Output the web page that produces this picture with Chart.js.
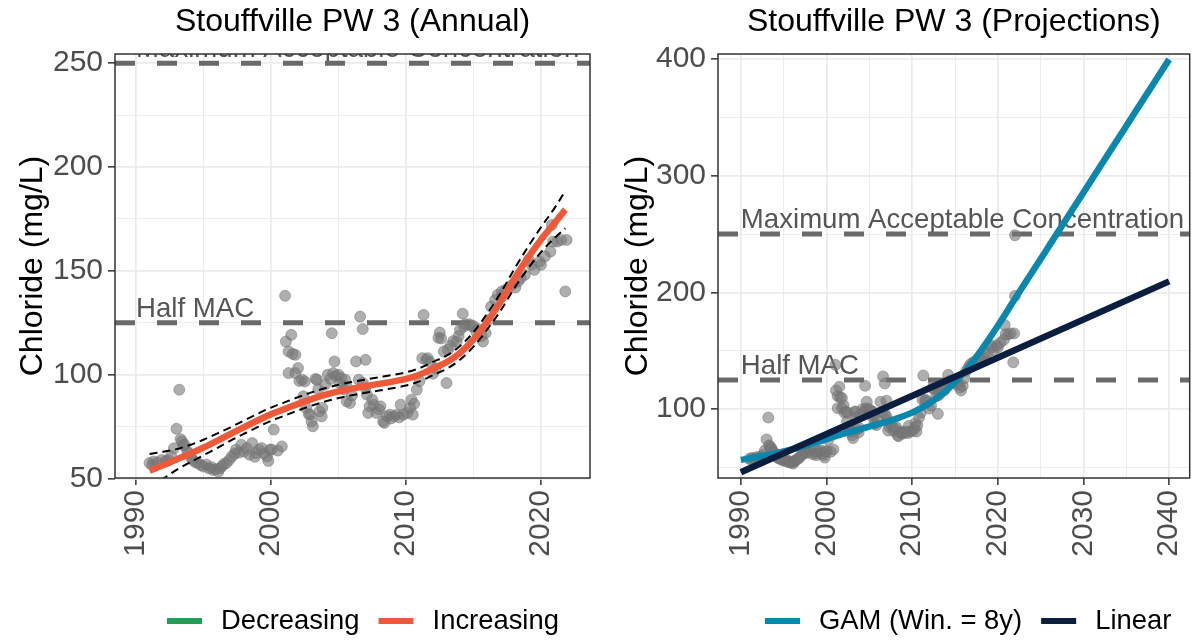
<!DOCTYPE html>
<html>
<head>
<meta charset="utf-8">
<title>Stouffville PW 3 chloride</title>
<script src="https://cdn.jsdelivr.net/npm/chart.js@4.4.1/dist/chart.umd.min.js"></script>
<style>
  html, body { margin: 0; padding: 0; background: #fff; }
  #wrap { position: relative; width: 1196px; height: 640px; }
  .panel { position: absolute; top: 0; width: 598px; height: 640px; }
</style>
</head>
<body>
<div id="wrap">
  <div class="panel" style="left:0"><canvas id="annual" width="598" height="640"></canvas></div>
  <div class="panel" style="left:598px"><canvas id="projections" width="598" height="640"></canvas></div>
</div>
<script>
// observed chloride samples (decimal year, mg/L)
const obsYears = [
  1991.0, 1991.2, 1991.3, 1991.6, 1991.9, 1992.2, 1992.4, 1992.6, 1992.8, 1993.0,
  1993.2, 1993.3, 1993.4, 1993.5, 1993.6, 1993.8, 1993.9, 1994.1, 1994.2, 1994.4,
  1994.6, 1994.8, 1995.0, 1995.2, 1995.4, 1995.6, 1995.7, 1995.9, 1996.1, 1996.2,
  1996.35, 1996.5, 1996.7, 1996.9, 1997.1, 1997.3, 1997.4, 1997.6, 1997.8, 1998.0,
  1998.2, 1998.4, 1998.6, 1998.8, 1998.9, 1999.1, 1999.3, 1999.5, 1999.7, 1999.8,
  1999.9, 2000.05, 2000.2, 2000.5, 2000.8, 2001.04, 2001.1, 2001.3, 2001.3, 2001.5,
  2001.6, 2001.8, 2001.8, 2002.0, 2002.1, 2002.3, 2002.4, 2002.5, 2002.6, 2002.8,
  2002.9, 2003.0, 2003.1, 2003.3, 2003.4, 2003.5, 2003.6, 2003.75, 2003.8, 2004.0,
  2004.2, 2004.4, 2004.5, 2004.6, 2004.7, 2004.8, 2005.0, 2005.1, 2005.2, 2005.4,
  2005.5, 2005.6, 2005.6, 2005.85, 2006.0, 2006.3, 2006.5, 2006.6, 2006.8, 2006.8,
  2007.0, 2007.0, 2007.1, 2007.2, 2007.3, 2007.5, 2007.6, 2007.8, 2008.0, 2008.1,
  2008.3, 2008.4, 2008.6, 2008.8, 2008.9, 2009.1, 2009.3, 2009.5, 2009.6, 2009.8,
  2010.1, 2010.3, 2010.4, 2010.5, 2010.6, 2010.8, 2011.0, 2011.2, 2011.3, 2011.5,
  2011.6, 2011.8, 2012.0, 2012.2, 2012.4, 2012.5, 2012.6, 2012.8, 2013.0, 2013.1,
  2013.3, 2013.5, 2013.75, 2013.9, 2014.0, 2014.2, 2014.3, 2014.4, 2014.7, 2014.9,
  2015.0, 2015.2, 2015.4, 2015.6, 2015.7, 2015.9, 2016.1, 2016.3, 2016.6, 2016.8,
  2017.1, 2017.1, 2017.4, 2017.8, 2018.1, 2018.3, 2018.5, 2018.8, 2019.1, 2019.3,
  2019.5, 2019.9, 2020.0, 2020.3, 2020.7, 2020.8, 2020.9, 2021.2, 2021.5, 2021.8,
  2021.9
];
const obsChloride = [
  57.5, 56.5, 58.2, 57.8, 59, 58.5, 59, 61, 64.6, 74,
  92.8, 69, 67.9, 66, 66.3, 63, 62.3, 60, 59, 57.8,
  57.5, 56.5, 55.8, 56.8, 55, 55.5, 54.2, 54.5, 53.4, 55,
  55.8, 57, 57.5, 59, 60.7, 62, 63.9, 62.5, 66.3, 63,
  64.7, 61.5, 67.1, 60.5, 62.3, 64, 64.7, 62, 60.7, 58.5,
  63.9, 64, 73.6, 63.5, 65.5, 138, 116, 111.2, 100.8, 119.2,
  110, 109.6, 100.8, 103.2, 97, 97.6, 89.6, 96.8, 84, 81,
  80.8, 77.5, 75.2, 98, 97.6, 93, 82.4, 80, 84, 95.2,
  100, 98, 120, 100.8, 106.4, 99.5, 100, 96, 98.4, 93,
  97.6, 94.4, 87.2, 86.4, 90, 106.4, 97.6, 128, 122, 96,
  107.2, 93.5, 90.4, 81.6, 84.8, 88, 85.6, 81.6, 83.3, 84.8,
  77.6, 76.8, 80, 80.8, 79, 80, 80.8, 79.5, 85.6, 80.8,
  81.6, 84, 88, 80.8, 86, 92.8, 96.9, 108, 128.8, 107.2,
  108, 106, 100.5, 103, 117.8, 120.3, 117.5, 111.2, 96, 112,
  114, 116.2, 116, 118.6, 121.6, 129.4, 123.2, 124.3, 124.3, 123.2,
  123.5, 120.8, 121.9, 118.6, 116, 120, 126.4, 132.8, 136, 138.5,
  140.1, 137.7, 141, 143, 142, 144.9, 146.5, 148.1, 155.3, 153,
  150.5, 154.5, 152.9, 157, 159.3, 172.1, 164.1, 164.1, 164.9, 140.1,
  164.9
];
// latest samples, only in the projection record
const recentYears = [2022.0, 2022.0];
const recentChloride = [249, 197];

// annual trend (increasing) with confidence band
const trendYears = [
  1991, 1992, 1993, 1994, 1995, 1996, 1997, 1998, 1999, 2000, 2001, 2002, 2003, 2004, 2005, 2006,
  2007, 2008, 2009, 2010, 2011, 2012, 2013, 2014, 2015, 2016, 2017, 2018, 2019, 2020, 2021, 2021.8
];
const trendFit = [
  53.8, 56.4, 59.2, 62, 65, 68.2, 71.5, 74.8, 78, 81, 83.5, 86, 88.3, 90.3, 92, 93.3,
  94.5, 95.6, 96.7, 98, 100, 103, 106, 110.5, 117, 125.5, 135, 146, 156, 165, 173, 179.5
];
const trendUpper = [
  61.8, 62.9, 64.2, 66.2, 68.7, 71.7, 74.7, 78, 81.2, 84.2, 86.7, 89.2, 91.5, 93.5, 95.2, 96.5,
  97.7, 98.8, 99.9, 101.2, 103.2, 106.2, 109.2, 113.8, 120.5, 129.3, 139.2, 150.6, 161.2, 171, 180.2, 188.5
];
const trendLower = [
  45.8, 49.9, 54.2, 57.8, 61.3, 64.7, 68.3, 71.6, 74.8, 77.8, 80.3, 82.8, 85.1, 87.1, 88.8, 90.1,
  91.3, 92.4, 93.5, 94.8, 96.8, 99.8, 102.8, 107.2, 113.5, 121.7, 130.8, 141.4, 150.8, 159, 165.8, 170.5
];

// projections
const gamYears = [
  1990, 1993, 1996, 1999, 2002, 2005, 2008, 2010, 2012, 2014, 2016, 2018, 2020,
  2022, 2024, 2026, 2028, 2030, 2032, 2034, 2036, 2038, 2040
];
const gamFit = [
  56.5, 60.5, 65.5, 72, 79, 85, 91.5, 97, 105, 116, 131, 150, 171.5,
  194.5, 217.3, 240.1, 262.9, 285.7, 308.5, 331.3, 354.1, 376.9, 399.7
];
const linearYears = [1990, 2040];
const linearFit = [46, 209.5];

// guideline levels
const MAC = 250;
const HALF_MAC = 125;

// axis limits and ticks
const annualX = [1988.44, 2023.63];
const annualY = [50.3, 254.4];
const annualXTicks = [1990, 2000, 2010, 2020];
const annualXMinor = [1995, 2005, 2015];
const annualYTicks = [50, 100, 150, 200, 250];
const annualYMinor = [75, 125, 175, 225];

const projX = [1987.33, 2042.4];
const projY = [41.0, 404.3];
const projXTicks = [1990, 2000, 2010, 2020, 2030, 2040];
const projXMinor = [1995, 2005, 2015, 2025, 2035];
const projYTicks = [100, 200, 300, 400];
const projYMinor = [50, 150, 250, 350];

const FONT = "'Liberation Sans', Arial, Helvetica, sans-serif";
const RED = '#EE5A39';
const GREEN = '#1FA05A';
const TEAL = '#0A87AD';
const NAVY = '#0B1E3F';
const REF_GREY = '#6A6A6A';

Chart.defaults.font.family = FONT;

const pairs = (xs, ys) => xs.map((x, i) => ({ x, y: ys[i] }));

const refLine = (level, xr) => ({
  data: pairs(xr, [level, level]),
  showLine: true,
  borderColor: REF_GREY,
  borderWidth: 5,
  borderDash: [20, 22],
  pointRadius: 0,
  clip: 0,
  order: 5,
});

const pointsSet = (xs, ys) => ({
  data: pairs(xs, ys),
  pointRadius: 5.5,
  pointBackgroundColor: 'rgba(120,120,120,0.6)',
  pointBorderColor: 'rgba(110,110,110,0.6)',
  pointBorderWidth: 0.8,
  order: 4,
});

const curve = (xs, ys, color, width, dash, order) => ({
  data: pairs(xs, ys),
  showLine: true,
  borderColor: color,
  borderWidth: width,
  borderDash: dash,
  pointRadius: 0,
  cubicInterpolationMode: 'monotone',
  clip: 0,
  order,
});

const axis = (range, majors, minors, fitSize, isX) => ({
  type: 'linear',
  position: isX ? 'bottom' : 'left',
  min: range[0],
  max: range[1],
  border: { display: false },
  grid: {
    color: '#EBEBEB',
    lineWidth: (c) => (c.tick && majors.includes(c.tick.value) ? 1.7 : 0.9),
    tickColor: (c) => (c.tick && majors.includes(c.tick.value) ? '#333333' : 'rgba(0,0,0,0)'),
    tickWidth: 1.5,
    tickLength: 7,
  },
  ticks: {
    autoSkip: false,
    includeBounds: false,
    color: '#4D4D4D',
    font: { size: 30 },
    padding: 5,
    minRotation: isX ? 90 : 0,
    maxRotation: isX ? 90 : 0,
    callback: (v) => (majors.includes(v) ? String(v) : ''),
  },
  afterBuildTicks: (scale) => {
    scale.ticks = majors.concat(minors).sort((a, b) => a - b).map((value) => ({ value }));
  },
  afterFit: (scale) => {
    if (isX) {
      scale.height = fitSize;
      scale.paddingLeft = 0;
      scale.paddingRight = 0;
    } else {
      scale.width = fitSize;
    }
  },
});

// guideline captions, panel frame and key
const decor = {
  id: 'decor',
  beforeDatasetsDraw(chart, args, opts) {
    const { ctx, chartArea: a, scales } = chart;
    ctx.save();
    ctx.beginPath();
    ctx.rect(a.left, a.top, a.right - a.left, a.bottom - a.top);
    ctx.clip();
    ctx.font = `27.6px ${FONT}`;
    ctx.fillStyle = '#555555';
    ctx.textAlign = 'left';
    ctx.textBaseline = 'alphabetic';
    const x = scales.x.getPixelForValue(opts.labelYear);
    ctx.fillText('Maximum Acceptable Concentration', x, scales.y.getPixelForValue(MAC) - 6);
    ctx.fillText('Half MAC', x, scales.y.getPixelForValue(HALF_MAC) - 6);
    ctx.restore();
  },
  afterDatasetsDraw(chart) {
    const { ctx, chartArea: a } = chart;
    ctx.save();
    ctx.strokeStyle = '#333333';
    ctx.lineWidth = 1.5;
    ctx.strokeRect(a.left, a.top, a.right - a.left, a.bottom - a.top);
    ctx.restore();
  },
  afterDraw(chart, args, opts) {
    const { ctx } = chart;
    ctx.save();
    ctx.font = `27.4px ${FONT}`;
    ctx.textBaseline = 'middle';
    ctx.textAlign = 'left';
    let x = opts.keyLeft;
    const y = opts.keyY;
    opts.keys.forEach(({ label, color }) => {
      ctx.fillStyle = color;
      ctx.fillRect(x, y - 3, 35, 6);
      x += 54;
      ctx.fillStyle = '#000000';
      ctx.fillText(label, x, y);
      x += ctx.measureText(label).width + 19;
    });
    ctx.restore();
  },
};

const baseOptions = (title, xr, yr, xt, xm, yt, ym, yWidth, yTitlePad, padRight, decorOpts) => ({
  responsive: false,
  animation: false,
  events: [],
  layout: { padding: { left: 0, right: padRight, top: 0, bottom: 82 } },
  scales: {
    x: axis(xr, xt, xm, 80, true),
    y: Object.assign(axis(yr, yt, ym, yWidth, false), {
      title: {
        display: true,
        text: 'Chloride (mg/L)',
        color: '#000000',
        font: { size: 32 },
        padding: { top: yTitlePad, bottom: 0 },
      },
    }),
  },
  plugins: {
    legend: { display: false },
    tooltip: { enabled: false },
    title: {
      display: true,
      text: title,
      color: '#000000',
      font: { size: 32, weight: 'normal' },
      padding: { top: 3, bottom: 12.6 },
      fullSize: false,
    },
    decor: decorOpts,
  },
});

new Chart(document.getElementById('annual'), {
  type: 'scatter',
  data: {
    datasets: [
      curve(trendYears, trendFit, RED, 6.5, [], 0),
      curve(trendYears, trendUpper, '#000000', 2, [8, 5], 1),
      curve(trendYears, trendLower, '#000000', 2, [8, 5], 1),
      pointsSet(obsYears, obsChloride),
      refLine(MAC, annualX),
      refLine(HALF_MAC, annualX),
    ],
  },
  options: baseOptions('Stouffville PW 3 (Annual)', annualX, annualY,
    annualXTicks, annualXMinor, annualYTicks, annualYMinor, 115, 14, 8, {
      labelYear: 1990,
      keyLeft: 167,
      keyY: 621,
      keys: [{ label: 'Decreasing', color: GREEN }, { label: 'Increasing', color: RED }],
    }),
  plugins: [decor],
});

new Chart(document.getElementById('projections'), {
  type: 'scatter',
  data: {
    datasets: [
      curve(linearYears, linearFit, NAVY, 6.5, [], 0),
      curve(gamYears, gamFit, TEAL, 6.5, [], 1),
      pointsSet(obsYears.concat(recentYears), obsChloride.concat(recentChloride)),
      refLine(MAC, projX),
      refLine(HALF_MAC, projX),
    ],
  },
  options: baseOptions('Stouffville PW 3 (Projections)', projX, projY,
    projXTicks, projXMinor, projYTicks, projYMinor, 120, 21, 3, {
      labelYear: 1990,
      keyLeft: 167,
      keyY: 621,
      keys: [{ label: 'GAM (Win. = 8y)', color: TEAL }, { label: 'Linear', color: NAVY }],
    }),
  plugins: [decor],
});
</script>
</body>
</html>
